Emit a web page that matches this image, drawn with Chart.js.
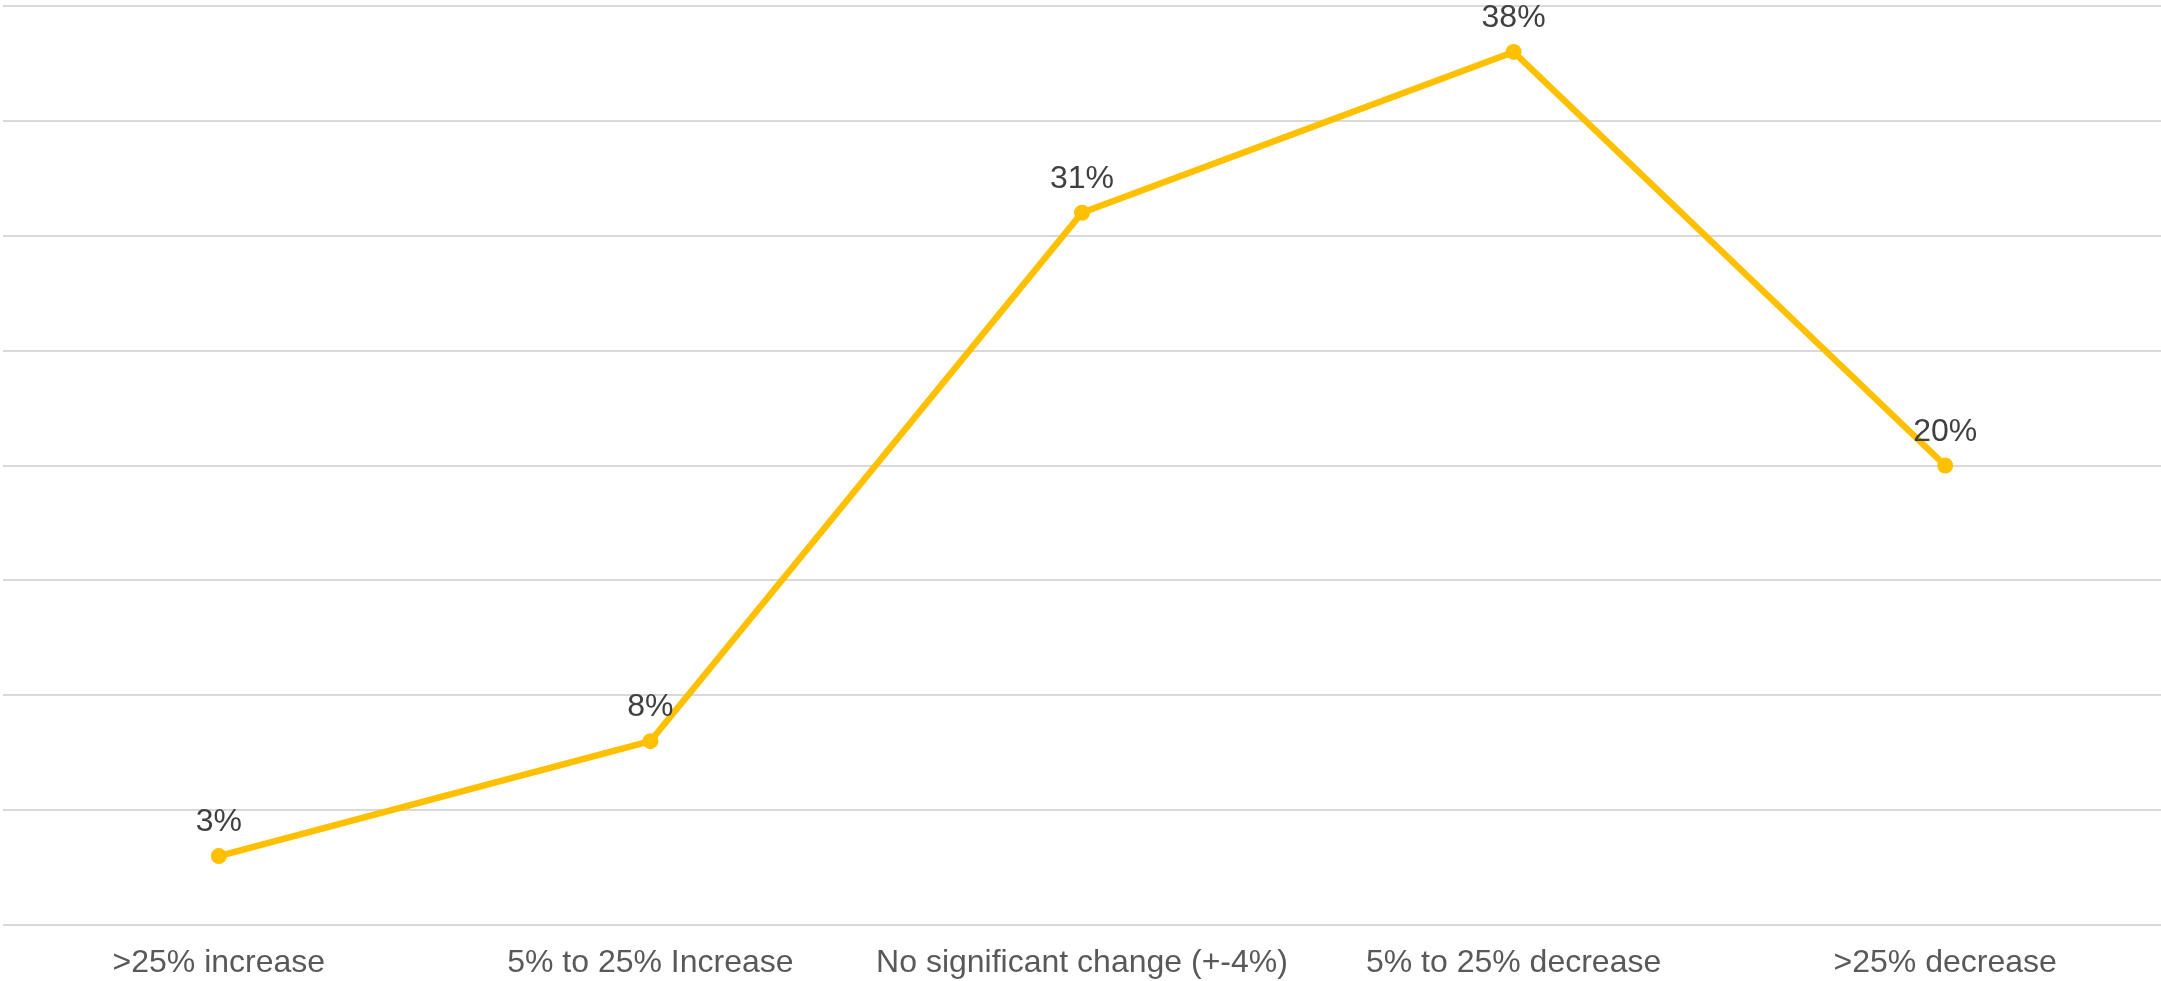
<!DOCTYPE html>
<html>
<head>
<meta charset="utf-8">
<script src="https://cdn.jsdelivr.net/npm/chart.js@4/dist/chart.umd.min.js"></script>
<style>
  html, body { margin: 0; padding: 0; background: #fff; }
  #wrap { width: 2161px; height: 981px; }
</style>
</head>
<body>
<div id="wrap"><canvas id="chart" width="2161" height="981"></canvas></div>
<script>
// categories and values
const CATEGORIES = ['>25% increase', '5% to 25% Increase', 'No significant change (+-4%)', '5% to 25% decrease', '>25% decrease'];
const VALUES = [0.03, 0.08, 0.31, 0.38, 0.20];
const VALUE_LABELS = ['3%', '8%', '31%', '38%', '20%'];

const FONT = '"Liberation Sans", Arial, sans-serif';

// draws the value above each point
const pointLabels = {
  id: 'pointLabels',
  afterDatasetsDraw(chart) {
    const ctx = chart.ctx;
    const meta = chart.getDatasetMeta(0);
    ctx.save();
    ctx.font = '32px ' + FONT;
    ctx.fillStyle = '#404040';
    ctx.textAlign = 'center';
    ctx.textBaseline = 'alphabetic';
    meta.data.forEach((pt, i) => {
      ctx.fillText(VALUE_LABELS[i], pt.x, pt.y - 25);
    });
    ctx.restore();
  }
};

new Chart(document.getElementById('chart'), {
  type: 'line',
  data: {
    labels: CATEGORIES,
    datasets: [{
      data: VALUES,
      borderColor: '#FFC000',
      backgroundColor: '#FFC000',
      borderWidth: 6.5,
      pointRadius: 8,
      pointBorderWidth: 0,
      pointBackgroundColor: '#FFC000',
      tension: 0,
      fill: false,
      clip: false
    }]
  },
  options: {
    responsive: false,
    devicePixelRatio: 1,
    animation: false,
    layout: { autoPadding: false, padding: { left: 3, top: 6, right: 0, bottom: 0 } },
    plugins: {
      legend: { display: false },
      tooltip: { enabled: false }
    },
    scales: {
      x: {
        offset: true,
        afterFit: s => { s.height = 56; s.paddingLeft = 0; s.paddingRight = 0; },
        grid: { display: false, drawTicks: false },
        border: { display: false },
        ticks: {
          color: '#595959',
          font: { family: FONT, size: 32 },
          padding: 19,
          maxRotation: 0,
          autoSkip: false
        }
      },
      y: {
        min: 0,
        max: 0.4,
        afterFit: s => { s.width = 0; },
        grid: { color: '#D9D9D9', lineWidth: 2, drawTicks: false },
        border: { display: false },
        ticks: { display: false, stepSize: 0.05 }
      }
    }
  },
  plugins: [pointLabels]
});
</script>
</body>
</html>
